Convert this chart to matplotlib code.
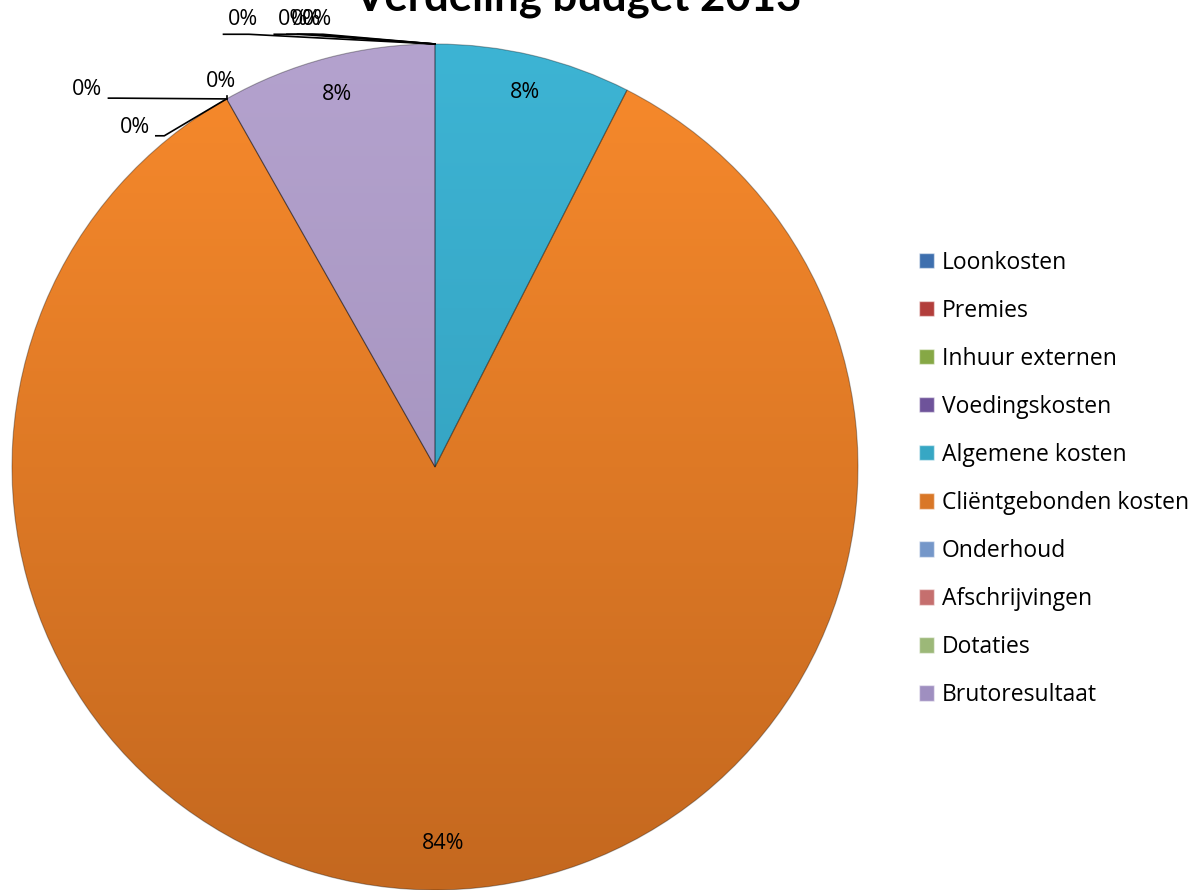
import numpy as np
import matplotlib.pyplot as plt
from matplotlib.patches import Patch
from matplotlib.colors import to_rgb

# Data: budget 2013 breakdown (percent of total), clockwise from 12 o'clock
categories = ['Loonkosten', 'Premies', 'Inhuur externen', 'Voedingskosten',
              'Algemene kosten', 'Cliëntgebonden kosten', 'Onderhoud',
              'Afschrijvingen', 'Dotaties', 'Brutoresultaat']
values = [0.0, 0.0, 0.0, 0.0, 7.5, 84.3, 0.0, 0.0, 0.0, 8.2]
colors = ['#4F81BD', '#C0504D', '#9BBB59', '#8064A2', '#36A9C8',
          '#E47B2A', '#7F9FCF', '#CD7B7A', '#A8C17E', '#AB9AC7']
# top / bottom colours of the shaded slices
grad_top = {'Algemene kosten': '#3DB4D4', 'Cliëntgebonden kosten': '#F88A2C',
            'Brutoresultaat': '#B4A2CE'}
grad_bot = {'Algemene kosten': '#2F97B4', 'Cliëntgebonden kosten': '#C4681F',
            'Brutoresultaat': '#9C8BB5'}
legend_colors = ['#3E6FAE', '#B23E3B', '#86A845', '#6E539A', '#37A7C4',
                 '#D97727', '#7597C9', '#C56F6E', '#9CB878', '#9F8FC0']

plt.rcParams['font.family'] = ['Open Sans', 'DejaVu Sans']

fig = plt.figure(figsize=(11.96, 8.9), dpi=100)
ax = fig.add_axes([12 / 1196, 0.0, 846 / 1196, 846 / 890])

wedges, _ = ax.pie(values, colors=colors, startangle=90, counterclock=False,
                   radius=1.0, wedgeprops=dict(linewidth=0.8, edgecolor='#00000050'))

# vertical gradient inside every wedge (lighter on top, darker at bottom)
yy = np.linspace(0, 1, 256)[:, None]
for w, name in zip(wedges, categories):
    if w.theta2 - w.theta1 <= 0:
        continue
    top = np.array(to_rgb(grad_top[name]))
    bot = np.array(to_rgb(grad_bot[name]))
    grad = (bot * (1 - yy) + top * yy)[:, None, :].repeat(2, axis=1)
    im = ax.imshow(grad, extent=(-1, 1, -1, 1), origin='lower',
                   aspect='auto', zorder=w.get_zorder() + 0.1)
    im.set_clip_path(w)
    w.set_zorder(w.get_zorder() + 0.2)
    w.set_facecolor('none')

# percentage labels for the visible slices
for w, v in zip(wedges, values):
    if v <= 0:
        continue
    mid = np.deg2rad((w.theta1 + w.theta2) / 2)
    d = 0.89 if v > 50 else 0.91
    ax.text(d * np.cos(mid), d * np.sin(mid), f'{v:.0f}%', ha='center',
            va='center', fontsize=15.5, zorder=5)

# labels for the empty slices, with leader lines
zero_pos = {
    'Loonkosten': (-0.455, 1.058),
    'Premies': (-0.335, 1.058),
    'Inhuur externen': (-0.305, 1.058),
    'Voedingskosten': (-0.280, 1.058),
    'Onderhoud': (-0.505, 0.912),
    'Afschrijvingen': (-0.822, 0.892),
    'Dotaties': (-0.710, 0.803),
}
for w, name, v in zip(wedges, categories, values):
    if v > 0:
        continue
    a = np.deg2rad(w.theta1)
    px, py = np.cos(a), np.sin(a)
    lx, ly = zero_pos[name]
    ax.text(lx, ly, '0%', ha='center', va='center', fontsize=15.5, zorder=5)
    if name == 'Onderhoud':
        ax.plot([px, px], [py, ly - 0.035], color='black', lw=1.2, zorder=6)
    elif ly > 1:
        ex = lx - 0.045
        ax.plot([ex, ex + 0.06, px], [ly - 0.035, ly - 0.035, py],
                color='black', lw=1.2, zorder=6, clip_on=False)
    else:
        ex = lx + 0.05
        ax.plot([ex, ex + 0.02, px], [ly - 0.02, ly - 0.02, py],
                color='black', lw=1.2, zorder=6, clip_on=False)

ax.set_xlim(-1, 1)
ax.set_ylim(-1, 1)
ax.set_aspect('equal')
ax.axis('off')

fig.text(578 / 1196, 880 / 890, 'Verdeling budget 2013', ha='center',
         va='baseline', fontsize=31.5, fontweight='bold',
         family=['Lato', 'DejaVu Sans'])

handles = [Patch(facecolor=c, edgecolor='#ffffff80') for c in legend_colors]
fig.legend(handles, categories, loc='upper left',
           bbox_to_anchor=(898 / 1196, 1 - 230 / 890), frameon=False,
           fontsize=16.5, handlelength=0.65, handleheight=0.65,
           handletextpad=0.35, labelspacing=1.05)

fig.savefig('out.png', dpi=100)
